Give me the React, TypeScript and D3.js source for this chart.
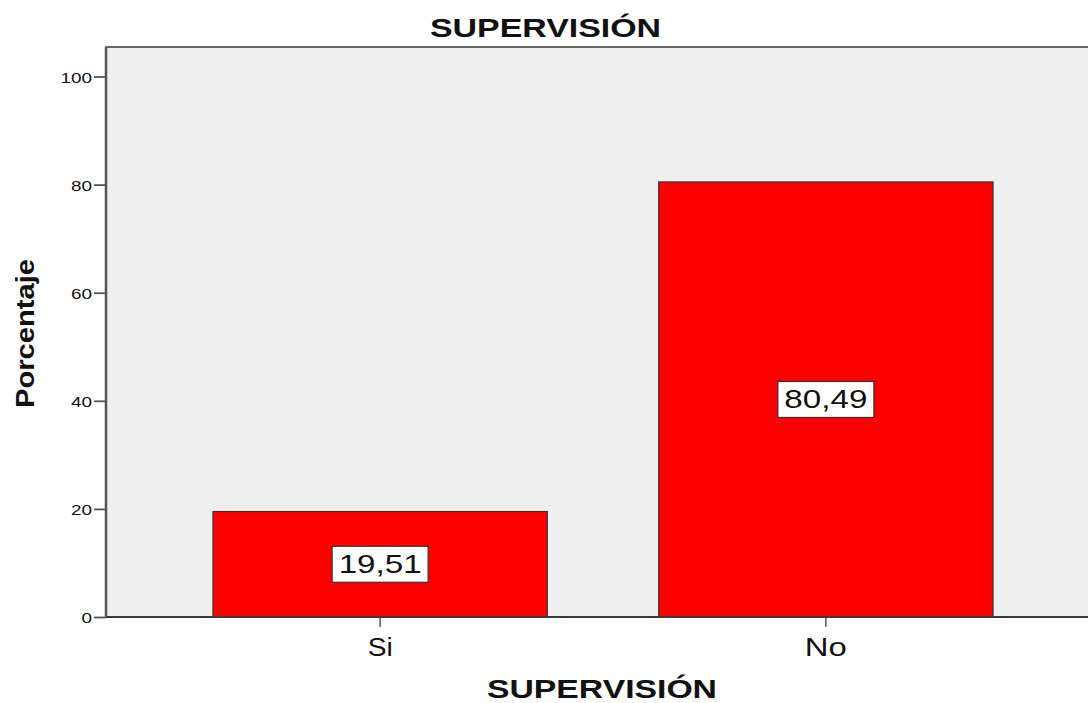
import React from 'react';
import { useRef, useEffect } from 'react';
import * as d3 from 'd3';

// chart data
const categories = ["Si", "No"];
const percentages = [19.51, 80.49];
const yTicks = [0, 20, 40, 60, 80, 100];
const chartTitle = "SUPERVISIÓN";
const xAxisTitle = "SUPERVISIÓN";
const yAxisTitle = "Porcentaje";

const formatValue = (d: number) => d.toFixed(2).replace(".", ",");

const chartStyle = {
    margin: {top: 47, left: 106, bottom: 86, right: -12},
    fontFamily: "'Liberation Sans', Arial, sans-serif",
    plotFill: "#efefef",
    frameColor: "#3a3a3a",
    axisColor: "#555555",
    barFill: "#ff0000",
    barStroke: "#333333",
    textColor: "#111111",
}

const App: React.FC = () => {

    const svgRef = useRef<SVGSVGElement>(null);

    const width = 1088;
    const height = 703;

    useEffect(() => {
        if (!svgRef.current) return;

        const margin = {...chartStyle.margin};
        const svg = d3.select(svgRef.current);
        svg.selectAll("*").remove();

        const plotTop = margin.top;
        const plotBottom = height - margin.bottom; // 617
        const plotLeft = margin.left;
        const plotRight = width - margin.right; // runs past the right edge

        const xScale = d3.scaleBand<string>()
            .domain(categories)
            .range([plotLeft, plotRight])
            .paddingInner(0.25)
            .paddingOuter(0.24);

        const yScale = d3.scaleLinear()
            .domain([0, 100])
            .range([plotBottom, 76.5]);

        // plot background + frame
        svg.append("rect")
            .attr("x", plotLeft)
            .attr("y", plotTop)
            .attr("width", plotRight - plotLeft)
            .attr("height", plotBottom - plotTop)
            .attr("fill", chartStyle.plotFill)
            .attr("stroke", chartStyle.frameColor)
            .attr("stroke-width", 1.5);

        // bars
        const data = categories.map((c, i) => ({cat: c, value: percentages[i]}));
        svg.selectAll(".bar")
            .data(data)
            .join("rect")
            .attr("class", "bar")
            .attr("x", d => xScale(d.cat)!)
            .attr("y", d => yScale(d.value))
            .attr("width", xScale.bandwidth())
            .attr("height", d => yScale(0) - yScale(d.value))
            .attr("fill", chartStyle.barFill)
            .attr("stroke", chartStyle.barStroke)
            .attr("stroke-width", 1.2);

        // data labels
        const labels = svg.selectAll(".data-label")
            .data(data)
            .join("g")
            .attr("class", "data-label")
            .attr("transform", d => `translate(${xScale(d.cat)! + xScale.bandwidth() / 2}, ${(yScale(d.value) + yScale(0)) / 2})`);
        labels.append("rect")
            .attr("x", -48)
            .attr("y", -18)
            .attr("width", 96)
            .attr("height", 36)
            .attr("fill", "white")
            .attr("stroke", "#333")
            .attr("stroke-width", 1.2);
        labels.append("text")
            .attr("x", -41.5)
            .attr("y", 9)
            .attr("textLength", 83)
            .attr("lengthAdjust", "spacingAndGlyphs")
            .style("font-family", chartStyle.fontFamily)
            .style("font-size", "25px")
            .style("fill", chartStyle.textColor)
            .text(d => formatValue(d.value));

        // x axis
        const xAxis = d3.axisBottom<string>(xScale).tickSize(10).tickPadding(0);
        const gx = svg.append("g")
            .attr("transform", `translate(0, ${plotBottom})`)
            .call(xAxis);
        gx.select(".domain").remove();
        gx.selectAll(".tick line").attr("stroke", chartStyle.axisColor).attr("stroke-width", 1.5);
        gx.selectAll(".tick text").remove();
        gx.selectAll<SVGGElement, string>(".tick").append("text")
            .attr("x", d => -(d === "Si" ? 25 : 42) / 2)
            .attr("y", 39)
            .attr("textLength", d => d === "Si" ? 25 : 42)
            .attr("lengthAdjust", "spacingAndGlyphs")
            .attr("text-anchor", "start")
            .style("font-family", chartStyle.fontFamily)
            .style("font-size", "25px")
            .style("fill", chartStyle.textColor)
            .text(d => d);
        svg.append("line")
            .attr("x1", plotLeft).attr("x2", width)
            .attr("y1", plotBottom).attr("y2", plotBottom)
            .attr("stroke", chartStyle.frameColor)
            .attr("stroke-width", 1.8);

        // y axis
        const yAxis = d3.axisLeft<number>(yScale).tickValues(yTicks).tickSize(12).tickPadding(0);
        const gy = svg.append("g")
            .attr("transform", `translate(${plotLeft}, 0)`)
            .call(yAxis);
        gy.select(".domain").remove();
        gy.selectAll(".tick line").attr("stroke", chartStyle.axisColor).attr("stroke-width", 1.8);
        gy.selectAll(".tick text").remove();
        gy.selectAll<SVGGElement, number>(".tick").append("text")
            .attr("x", -14)
            .attr("y", 5.5)
            .attr("text-anchor", "end")
            .attr("textLength", d => String(d).length * 10.5)
            .attr("lengthAdjust", "spacingAndGlyphs")
            .style("font-family", chartStyle.fontFamily)
            .style("font-size", "15px")
            .style("fill", chartStyle.textColor)
            .text(d => d);
        svg.append("line")
            .attr("x1", plotLeft).attr("x2", plotLeft)
            .attr("y1", plotTop).attr("y2", plotBottom)
            .attr("stroke", chartStyle.axisColor)
            .attr("stroke-width", 2.5);

        // titles
        svg.append("text")
            .attr("x", 430)
            .attr("y", 37)
            .attr("textLength", 231)
            .attr("lengthAdjust", "spacingAndGlyphs")
            .style("font-family", chartStyle.fontFamily)
            .style("font-weight", "bold")
            .style("font-size", "26px")
            .style("fill", chartStyle.textColor)
            .text(chartTitle);

        svg.append("text")
            .attr("x", 487)
            .attr("y", 698)
            .attr("textLength", 230)
            .attr("lengthAdjust", "spacingAndGlyphs")
            .style("font-family", chartStyle.fontFamily)
            .style("font-weight", "bold")
            .style("font-size", "26px")
            .style("fill", chartStyle.textColor)
            .text(xAxisTitle);

        svg.append("text")
            .attr("transform", `translate(34, 408) rotate(-90)`)
            .attr("textLength", 149)
            .attr("lengthAdjust", "spacingAndGlyphs")
            .style("font-family", chartStyle.fontFamily)
            .style("font-weight", "bold")
            .style("font-size", "25px")
            .style("fill", chartStyle.textColor)
            .text(yAxisTitle);

    }, []);

    return (
        <svg
            ref={svgRef}
            width={width}
            height={height}
            style={{position: "absolute", left: 0, top: 0, background: "white", display: "block"}}
        />
    );
}

export default App;
